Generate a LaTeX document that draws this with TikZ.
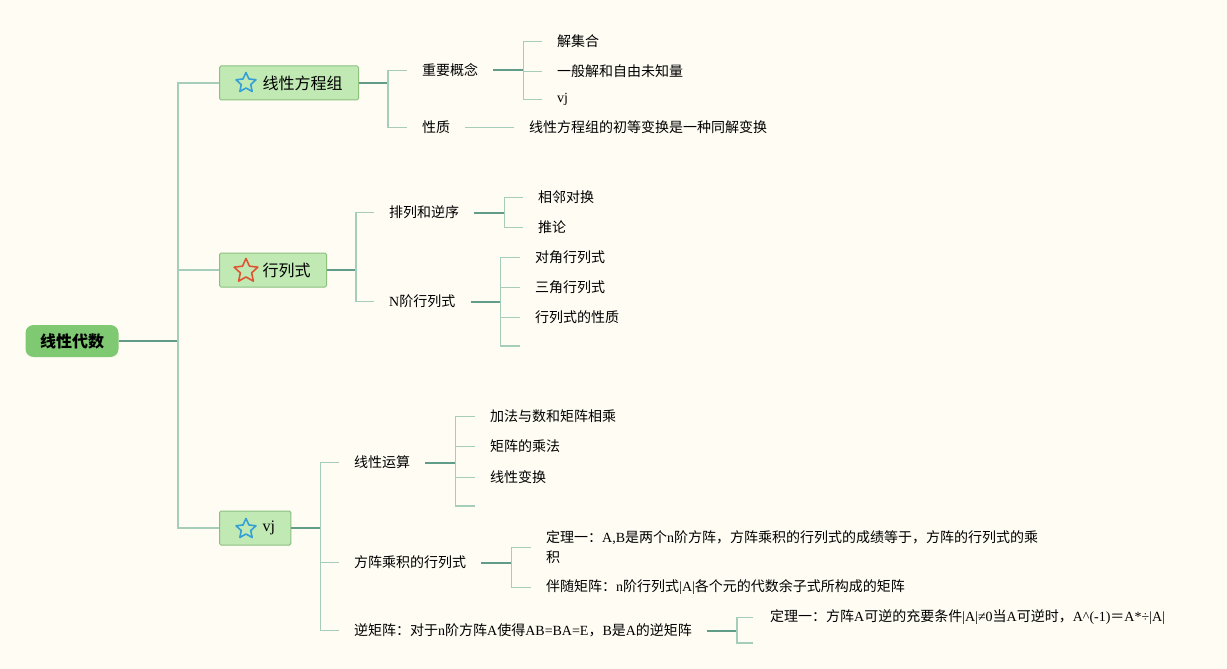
\documentclass[tikz,border=0pt]{standalone}
\usepackage{fontspec}
\setmainfont{Noto Sans CJK SC}
\newfontfamily\latfont{Liberation Serif}
\newcommand{\ltn}[1]{{\latfont #1}}
\usetikzlibrary{shapes.geometric, positioning}
\definecolor{bgcream}{RGB}{254,252,243}
\definecolor{rootgreen}{RGB}{126,201,114}
\definecolor{boxgreen}{RGB}{192,233,180}
\definecolor{boxedge}{RGB}{140,192,128}
\definecolor{linkdark}{RGB}{96,156,136}
\definecolor{linklight}{RGB}{166,204,186}
\definecolor{starblue}{RGB}{52,160,214}
\definecolor{starred}{RGB}{224,84,50}

\tikzset{
  rootbox/.style={fill=rootgreen, rounded corners=8pt, minimum width=93pt, minimum height=32pt,
    inner sep=0pt, font=\fontsize{16}{19}\selectfont\bfseries},
  topicbox/.style={draw=boxedge, line width=1pt, fill=boxgreen, rounded corners=1.5pt, minimum height=34pt,
    inner xsep=16pt, anchor=west, font=\fontsize{16}{19}\selectfont},
  leaf/.style={inner xsep=15pt, inner ysep=2pt, anchor=west, align=left, yshift=-1.5pt,
    font=\fontsize{14}{20}\selectfont},
  icon/.style={star, star points=5, star point ratio=2.1, minimum size=21pt, inner sep=0pt,
    line width=1.6pt, line join=round},
  trunk/.style={draw=linkdark, line width=2pt},
  twig/.style={draw=linklight, line width=1.6pt},
}

\begin{document}
\begin{tikzpicture}[x=1pt, y=-1pt]
  \path[use as bounding box, fill=bgcream] (0,0) rectangle (1227,669);

  % root and main topics
  \node[rootbox] (root) at (72,341) {线性代数};
  \node[topicbox] (t1) at (219,83) {\hspace*{27pt}线性方程组};
  \node[topicbox] (t2) at (219,270) {\hspace*{27pt}行列式};
  \node[topicbox] (t3) at (219,528) {\hspace*{27pt}\raisebox{3pt}{\ltn{vj}}};
  \node[icon, draw=starblue] (s1) at (246,83) {};
  \node[icon, draw=starred, minimum size=25pt] (s2) at (246,271) {};
  \node[icon, draw=starblue] (s3) at (246,529) {};

  \coordinate (j0) at (178,341);
  \draw[trunk] (root.east) -- (j0);
  \foreach \t in {t1,t2,t3}
    \draw[twig] (j0) |- (\t.west);

  % 线性方程组
  \node[leaf] (c11) at (407,69) {重要概念};
  \node[leaf] (c12) at (407,126) {性质};
  \node[leaf] (c11a) at (542,40) {解集合};
  \node[leaf] (c11b) at (542,70) {一般解和自由未知量};
  \node[leaf] (c11c) at (542,98) {\ltn{vj}};
  \node[leaf] (c12a) at (514,126) {线性方程组的初等变换是一种同解变换};

  \coordinate (j1) at ([xshift=29pt]t1.east);
  \draw[trunk] (t1.east) -- (j1);
  \foreach \n in {c11,c12}
    \draw[twig] (j1) |- (\n.west);
  \coordinate (j11) at ([xshift=30pt]c11.east);
  \draw[trunk] (c11.east) -- (j11);
  \foreach \n in {c11a,c11b,c11c}
    \draw[twig] (j11) |- (\n.west);
  \draw[twig] (c12.east) -- (c12a.west);

  % 行列式
  \node[leaf] (c21) at (374,211) {排列和逆序};
  \node[leaf] (c22) at (374,300) {\ltn{N}阶行列式};
  \node[leaf] (c21a) at (523,196) {相邻对换};
  \node[leaf] (c21b) at (523,226) {推论};
  \node[leaf] (c22a) at (520,256) {对角行列式};
  \node[leaf] (c22b) at (520,286) {三角行列式};
  \node[leaf] (c22c) at (520,316) {行列式的性质};
  \coordinate (c22d) at (520,346);

  \coordinate (j2) at ([xshift=29pt]t2.east);
  \draw[trunk] (t2.east) -- (j2);
  \foreach \n in {c21,c22}
    \draw[twig] (j2) |- (\n.west);
  \coordinate (j21) at ([xshift=30pt]c21.east);
  \draw[trunk] (c21.east) -- (j21);
  \foreach \n in {c21a,c21b}
    \draw[twig] (j21) |- (\n.west);
  \coordinate (j22) at ([xshift=30pt]c22.east);
  \draw[trunk] (c22.east) -- (j22);
  \foreach \n in {c22a,c22b,c22c}
    \draw[twig] (j22) |- (\n.west);
  \draw[twig] (j22) |- (c22d);

  % vj
  \node[leaf] (c31) at (339,461) {线性运算};
  \node[leaf] (c32) at (339,561) {方阵乘积的行列式};
  \node[leaf] (c33) at (339,629) {逆矩阵：对于\ltn{n}阶方阵\ltn{A}使得\ltn{AB=BA=E}，\ltn{B}是\ltn{A}的逆矩阵};
  \node[leaf] (c31a) at (475,415) {加法与数和矩阵相乘};
  \node[leaf] (c31b) at (475,445) {矩阵的乘法};
  \node[leaf] (c31c) at (475,476) {线性变换};
  \coordinate (c31d) at (475,506);
  \node[leaf] (c32a) at (531,546) {定理一：\ltn{A,B}是两个\ltn{n}阶方阵，方阵乘积的行列式的成绩等于，方阵的行列式的乘\\积};
  \node[leaf] (c32b) at (531,586) {伴随矩阵：\ltn{n}阶行列式\ltn{|A|}各个元的代数余子式所构成的矩阵};
  \node[leaf, inner xsep=17pt] (c33a) at (753,616) {定理一：方阵\ltn{A}可逆的充要条件\ltn{|A|≠0}当\ltn{A}可逆时，\ltn{A\textasciicircum(-1)}＝\ltn{A*÷|A|}};
  \coordinate (c33b) at (753,643);

  \coordinate (j3) at ([xshift=29pt]t3.east);
  \draw[trunk] (t3.east) -- (j3);
  \foreach \n in {c31,c32,c33}
    \draw[twig] (j3) |- (\n.west);
  \coordinate (j31) at ([xshift=30pt]c31.east);
  \draw[trunk] (c31.east) -- (j31);
  \foreach \n in {c31a,c31b,c31c}
    \draw[twig] (j31) |- (\n.west);
  \draw[twig] (j31) |- (c31d);
  \coordinate (j32) at ([xshift=30pt]c32.east);
  \draw[trunk] (c32.east) -- (j32);
  \foreach \n in {c32a,c32b}
    \draw[twig] (j32) |- (\n.west);
  \coordinate (j33) at ([xshift=30pt]c33.east);
  \draw[trunk] (c33.east) -- (j33);
  \draw[twig] (j33) |- (c33a.west);
  \draw[twig] (j33) |- (c33b);
\end{tikzpicture}
\end{document}
